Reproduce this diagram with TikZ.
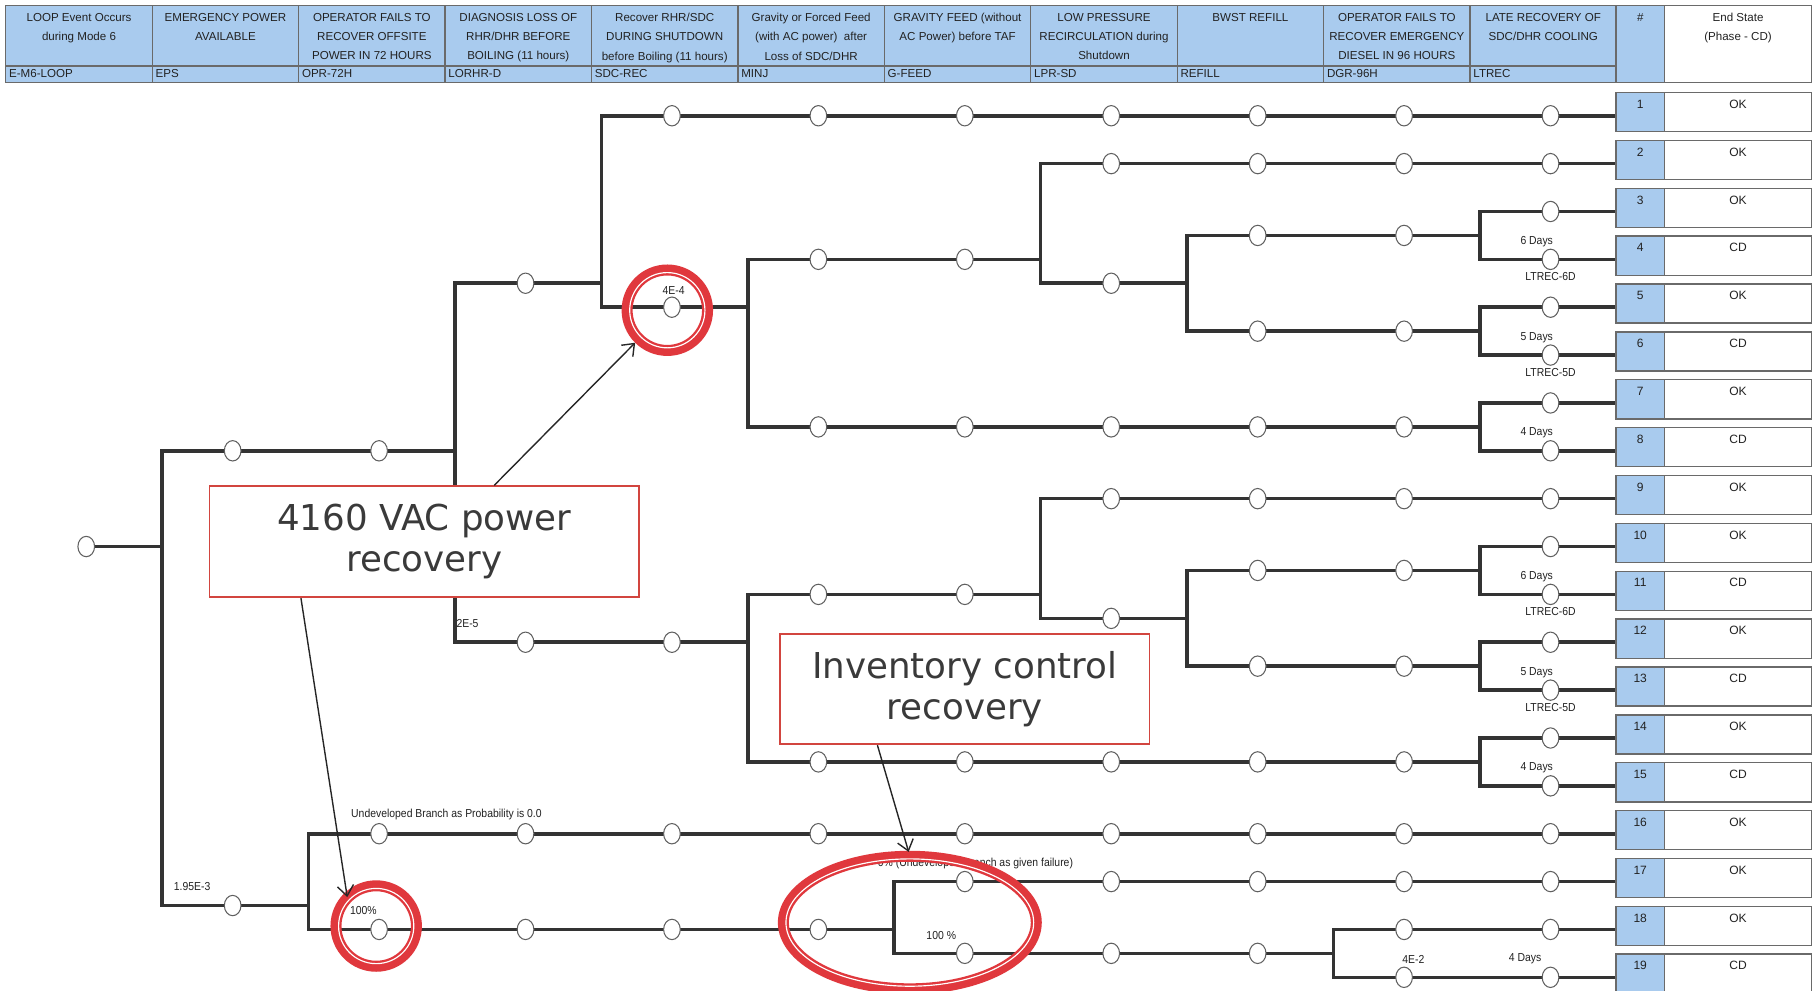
\documentclass[tikz,border=0pt]{standalone}
\usepackage{fontspec}
\setmainfont{Liberation Sans}
\newfontfamily\narrowfont[FakeStretch=0.9]{Liberation Sans}
\newfontfamily\calloutfont{DejaVu Sans}
\usetikzlibrary{shapes.geometric,arrows.meta}
\definecolor{hdrblue}{HTML}{A9CBEE}
\definecolor{branchgray}{HTML}{333333}
\definecolor{cellgray}{HTML}{6A6A6A}
\definecolor{calloutred}{HTML}{D2453F}
\definecolor{ringred}{HTML}{E0383D}
\definecolor{callouttext}{HTML}{3A3A3A}
\definecolor{txt}{HTML}{222222}

\newcommand\hseg[5]{%
  \coordinate (#1-s) at (#2,#4);
  \coordinate (#1-e) at (#3,#4);
  \draw[branch] (#1-s) -- (#1-e);
  \foreach \k in {#5} {\node[evc] (#1-c\k) at ({74.5+126.5*\k},#4) {};}
}
\newcommand\hcol[3]{%
  \node[hcell, minimum height=26.25pt] (ht#1) at ({5+126.5*(#1-0.5)},30.75) {};
  \node[hcell, minimum height=7.25pt] (hc#1) at ({5+126.5*(#1-0.5)},64.25) {};
  \node[htext] (htt#1) at ({5+126.5*(#1-0.5)},11.2) {#2};
  \node[hctext] (hct#1) at ({5+126.5*(#1-1)+2.5},63.5) {#3};
}

\begin{document}
\begin{tikzpicture}[x=0.5pt,y=-0.5pt,
  branch/.style={draw=branchgray, line width=1.55pt, line cap=rect},
  evc/.style={ellipse, draw=gray!75!black, line width=0.45pt, fill=white, inner sep=0pt, minimum width=7.2pt, minimum height=8.8pt},
  hcell/.style={rectangle, draw=cellgray, fill=hdrblue, line width=0.6pt, inner sep=0pt, minimum width=63.25pt},
  htext/.style={anchor=north, align=center, inner sep=0pt, text=txt, font=\fontsize{5}{8.25}\selectfont},
  hctext/.style={anchor=west, inner sep=0pt, text=txt, font=\fontsize{5}{6}\selectfont},
  numcell/.style={rectangle, draw=cellgray, fill=hdrblue, line width=0.6pt, inner sep=0pt, minimum width=21pt, text height=6.8pt, text depth=10.1pt, anchor=base, text=txt, font=\fontsize{5.2}{6}\selectfont},
  escell/.style={numcell, fill=white, minimum width=63.5pt},
  lbl/.style={inner sep=0pt, text=txt, font=\narrowfont\fontsize{5}{6}\selectfont},
  callbox/.style={draw=calloutred, line width=0.75pt, fill=white, align=center, inner sep=0pt, text=callouttext, font=\calloutfont\fontsize{15.4}{17.5}\selectfont},
  ring/.style={circle, draw=ringred, line width=4.75pt, inner sep=0pt, minimum size=34.75pt},
  carrow/.style={draw=black!85, line width=0.6pt, -{Straight Barb[length=4.5pt,width=7pt]}}
]
\useasboundingbox (0,0) rectangle (1568,856);
\clip (0,0) rectangle (1568,856);
\fill[white] (0,0) rectangle (1568,856);

% ---------- header ----------
\hcol{1}{LOOP Event Occurs\\during Mode 6}{E-M6-LOOP}
\hcol{2}{EMERGENCY POWER\\AVAILABLE}{EPS}
\hcol{3}{OPERATOR FAILS TO\\RECOVER OFFSITE\\POWER IN 72 HOURS}{OPR-72H}
\hcol{4}{DIAGNOSIS LOSS OF\\RHR/DHR BEFORE\\BOILING (11 hours)}{LORHR-D}
\hcol{5}{Recover RHR/SDC\\DURING SHUTDOWN\\before Boiling (11 hours)}{SDC-REC}
\hcol{6}{Gravity or Forced Feed\\(with AC power)\ \ after\\Loss of SDC/DHR}{MINJ}
\hcol{7}{GRAVITY FEED (without\\AC Power) before TAF}{G-FEED}
\hcol{8}{LOW PRESSURE\\RECIRCULATION during\\Shutdown}{LPR-SD}
\hcol{9}{BWST REFILL}{REFILL}
\hcol{10}{OPERATOR FAILS TO\\RECOVER EMERGENCY\\DIESEL IN 96 HOURS}{DGR-96H}
\hcol{11}{LATE RECOVERY OF\\SDC/DHR COOLING}{LTREC}
\node[hcell, minimum width=21pt, minimum height=33.5pt] (hnum) at (1417,38) {};
\node[htext] (hnumt) at (1417,11.2) {\#};
\node[hcell, fill=white, minimum width=63.5pt, minimum height=33.5pt] (hes) at (1501.5,38) {};
\node[htext] (hest) at (1501.5,11.2) {End State\\(Phase - CD)};

% ---------- end states ----------
\foreach \i/\st in {1/OK,2/OK,3/OK,4/CD,5/OK,6/CD,7/OK,8/CD,9/OK,10/OK,11/CD,12/OK,13/CD,14/OK,15/CD,16/OK,17/OK,18/OK,19/CD} {
  \pgfmathsetmacro\yy{100+41.35*(\i-1)-6.4}
  \node[numcell] (n\i) at (1417,\yy) {\i};
  \node[escell] (es\i) at (1501.5,\yy) {\st};
}

% ---------- event tree ----------
\coordinate (init-c) at (74.5,472.15);
\coordinate (root) at (140,472.15);
\draw[branch] (init-c) -- (root);
\node[evc] (init) at (init-c) {};

\hseg{A}{140}{393}{389.45}{1,2}
\hseg{B}{393}{519.5}{244.7}{3}
\hseg{C}{519.5}{1394}{100}{4,...,10}
\hseg{D}{519.5}{646}{265.4}{4}
\hseg{E}{646}{899}{224.05}{5,6}
\hseg{F}{899}{1394}{141.35}{7,...,10}
\hseg{G}{899}{1025.5}{244.7}{7}
\hseg{H}{1025.5}{1278.5}{203.4}{8,9}
\hseg{I}{1278.5}{1394}{182.7}{10}
\hseg{J}{1278.5}{1394}{224.05}{10}
\hseg{K}{1025.5}{1278.5}{286.1}{8,9}
\hseg{L}{1278.5}{1394}{265.4}{10}
\hseg{M}{1278.5}{1394}{306.75}{10}
\hseg{N}{646}{1278.5}{368.8}{5,...,9}
\hseg{O}{1278.5}{1394}{348.1}{10}
\hseg{P}{1278.5}{1394}{389.45}{10}
\hseg{Q}{393}{646}{554.85}{3,4}
\hseg{R}{646}{899}{513.5}{5,6}
\hseg{S}{899}{1394}{430.8}{7,...,10}
\hseg{T}{899}{1025.5}{534.2}{7}
\hseg{U}{1025.5}{1278.5}{492.8}{8,9}
\hseg{V}{1278.5}{1394}{472.15}{10}
\hseg{W}{1278.5}{1394}{513.5}{10}
\hseg{X}{1025.5}{1278.5}{575.5}{8,9}
\hseg{Ya}{1278.5}{1394}{554.85}{10}
\hseg{Yb}{1278.5}{1394}{596.2}{10}
\hseg{Z}{646}{1278.5}{658.2}{5,...,9}
\hseg{Za}{1278.5}{1394}{637.55}{10}
\hseg{Zb}{1278.5}{1394}{678.9}{10}
\hseg{AA}{140}{266.5}{782.3}{1}
\hseg{AB}{266.5}{1394}{720.25}{2,...,10}
\hseg{AC}{266.5}{772.5}{802.95}{2,...,5}
\hseg{AD}{772.5}{1394}{761.6}{6,...,10}
\hseg{AE}{772.5}{1152}{823.6}{6,7,8}
\hseg{AF}{1152}{1394}{802.95}{9,10}
\hseg{AG}{1152}{1394}{844.3}{9,10}

\draw[branch] (A-s) -- (AA-s);
\draw[branch] (B-s) -- (Q-s);
\draw[branch] (C-s) -- (D-s);
\draw[branch] (E-s) -- (N-s);
\draw[branch] (F-s) -- (G-s);
\draw[branch] (H-s) -- (K-s);
\draw[branch] (I-s) -- (J-s);
\draw[branch] (L-s) -- (M-s);
\draw[branch] (O-s) -- (P-s);
\draw[branch] (R-s) -- (Z-s);
\draw[branch] (S-s) -- (T-s);
\draw[branch] (U-s) -- (X-s);
\draw[branch] (V-s) -- (W-s);
\draw[branch] (Ya-s) -- (Yb-s);
\draw[branch] (Za-s) -- (Zb-s);
\draw[branch] (AB-s) -- (AC-s);
\draw[branch] (AD-s) -- (AE-s);
\draw[branch] (AF-s) -- (AG-s);

% ---------- branch labels ----------
\node[lbl] (l1) at (582,250.6) {4E-4};
\node[lbl, anchor=west] (l2) at (394,539) {2E-5};
\node[lbl] (l3) at (166,766) {1.95E-3};
\node[lbl, anchor=west] (l4) at (303,704) {Undeveloped Branch as Probability is 0.0};
\node[lbl, anchor=west] (l5) at (302,787) {100\%};
\node[lbl, anchor=west] (l6) at (758,746) {0\% (Undeveloped Branch as given failure)};
\node[lbl, anchor=west] (l7) at (800,808) {100 \%};
\node[lbl, anchor=east] (l8) at (1342,209) {6 Days};
\node[lbl] (l9) at (1339.5,239) {LTREC-6D};
\node[lbl, anchor=east] (l10) at (1342,292) {5 Days};
\node[lbl] (l11) at (1339.5,321.7) {LTREC-5D};
\node[lbl, anchor=east] (l12) at (1342,373.5) {4 Days};
\node[lbl, anchor=east] (l13) at (1342,498.5) {6 Days};
\node[lbl] (l14) at (1339.5,528.5) {LTREC-6D};
\node[lbl, anchor=east] (l15) at (1342,581) {5 Days};
\node[lbl] (l16) at (1339.5,611) {LTREC-5D};
\node[lbl, anchor=east] (l17) at (1342,663) {4 Days};
\node[lbl] (l18) at (1221,828.5) {4E-2};
\node[lbl] (l19) at (1317.5,828.5) {4 Days};

% ---------- callouts ----------
\node[callbox, minimum width=185.5pt, minimum height=48pt] (cb1) at (366.5,468) {4160 VAC power\\recovery};
\node[callbox, minimum width=159.5pt, minimum height=47.5pt] (cb2) at (833.5,595.5) {Inventory control\\recovery};

\node[ring] (rg1) at (576.5,268) {};
\draw[white, line width=0.5pt] (rg1.center) circle[radius=16.25pt];
\node[ring] (rg2) at (325,800) {};
\draw[white, line width=0.5pt] (rg2.center) circle[radius=16.25pt];
\node[ellipse, draw=ringred, line width=4.75pt, inner sep=0pt, minimum width=109.25pt, minimum height=57.25pt] (rg3) at (786,797) {};
\draw[white, line width=0.5pt] (rg3.center) ellipse[x radius=53.5pt, y radius=27.5pt];

\coordinate (t2) at (300,775);
\coordinate (t3) at (785,736);
\draw[carrow] ([xshift=30.25pt]cb1.north) -- (rg1);
\draw[carrow] ([xshift=-53.25pt]cb1.south) -- (t2);
\draw[carrow] ([xshift=-37.75pt]cb2.south) -- (t3);
\end{tikzpicture}
\end{document}
